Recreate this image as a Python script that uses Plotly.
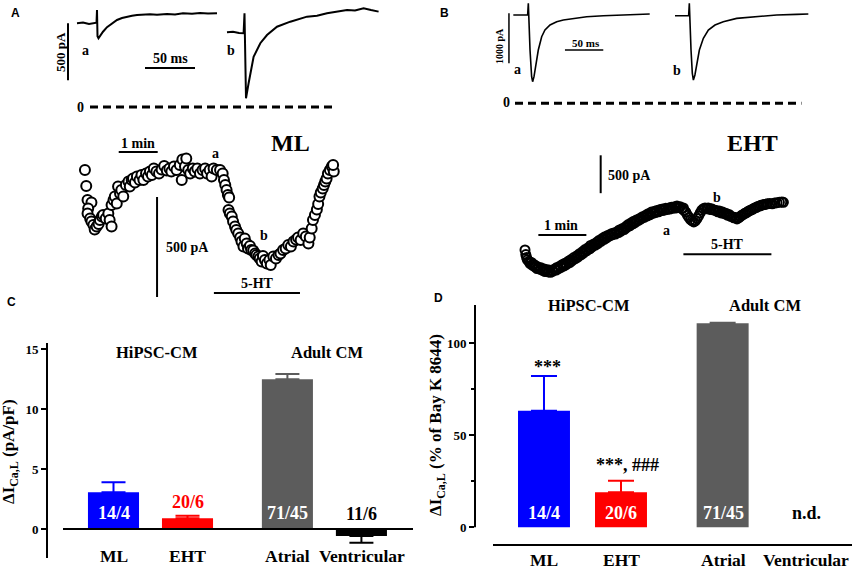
import plotly.graph_objects as go

W, H = 856, 571

# ---------------- data ----------------
# Panel A: example I_Ca,L traces (time in ms, current in pA relative to the dashed zero line)
A_SWEEP_A_T = [0, 6, 12, 18, 19.5, 20, 20.5, 21.5, 24, 26, 30, 33, 37, 40, 45, 50, 55, 60, 66, 73, 80, 90, 98, 106, 115, 123, 131, 140]
A_SWEEP_A_I = [734, 740, 728, 739, 739, 851, 620, 602, 640, 660, 700, 719, 745, 763, 780, 792, 800, 807, 812, 813, 808, 816, 812, 822, 818, 824, 820, 822]
A_SWEEP_B_T = [0, 6, 12, 16.6, 17.5, 18, 19, 21.6, 26.6, 33.3, 40, 50, 63.3, 80, 90, 100, 110, 120, 128, 136.6, 144, 151.6]
A_SWEEP_B_I = [655, 660, 648, 646, 822, 400, 76, 208, 441, 559, 631, 704, 748, 792, 800, 822, 838, 851, 846, 866, 850, 836]

# Panel A: time course of peak current, ML (time in s, current in pA)
ML_T = [0, 2, 4, 10, 5, 4, 8, 10, 13, 15,
        18, 21, 23, 26, 28, 32, 36, 38, 41, 41,
        44, 46, 49, 51, 54, 56, 59, 63, 67, 69,
        72, 74, 77, 80, 84, 87, 90, 94, 97, 100,
        103, 106, 110, 114, 118, 122, 126, 130, 133, 137,
        141, 146, 149, 150, 154, 156, 159, 162, 166, 169,
        173, 177, 181, 185, 188, 192, 195, 198, 203, 208,
        212, 214, 216, 218, 220, 222, 221, 223, 226, 228,
        231, 233, 236, 239, 241, 244, 246, 249, 251, 254,
        256, 259, 262, 264, 267, 269, 272, 274, 277, 280,
        284, 286, 290, 294, 298, 301, 305, 309, 313, 317,
        321, 325, 328, 332, 336, 340, 344, 346, 349, 351,
        354, 357, 359, 361, 363, 366, 368, 370, 372, 374,
        377, 380, 383, 382]
ML_I = [-200, -280, -350, -363, -392, -417, -442, -458, -475, -497,
        -483, -470, -450, -433, -425, -442, -417, -450, -483, -375,
        -350, -333, -367, -283, -317, -300, -333, -275, -258, -283,
        -250, -242, -263, -233, -250, -225, -250, -217, -233, -208,
        -225, -192, -208, -217, -197, -180, -203, -192, -208, -183,
        -200, -175, -250, -147, -183, -142, -200, -217, -192, -208,
        -192, -217, -200, -192, -217, -200, -233, -192, -200, -200,
        -217, -250, -275, -300, -325, -337, -400, -417, -433, -458,
        -483, -500, -517, -537, -558, -583, -542, -567, -592, -580,
        -600, -603, -617, -625, -633, -642, -658, -630, -650, -667,
        -650, -675, -633, -642, -625, -617, -600, -592, -575, -583,
        -558, -547, -537, -550, -517, -533, -567, -537, -492, -450,
        -425, -397, -370, -333, -313, -292, -275, -258, -242, -217,
        -200, -183, -208, -175]

# Panel B: example traces (ms, pA)
B_SWEEP_A_T = [0, 18.7, 19.6, 20, 21.8, 23.9, 25.2, 27, 29.6, 32.6, 37, 41.3, 47.9, 56.6, 65.3, 78.3, 95.7, 117.5, 143.6, 161, 178]
B_SWEEP_A_I = [1767, 1767, 2000, 1767, 1067, 533, 433, 533, 800, 1067, 1333, 1467, 1567, 1633, 1667, 1700, 1733, 1753, 1767, 1780, 1787]
B_SWEEP_B_T = [0, 17.8, 18.7, 19.1, 20.9, 22.6, 24, 26, 28.3, 31.8, 37, 43.5, 52.2, 63, 80.5, 106.6, 132.7, 158.8, 174]
B_SWEEP_B_I = [1753, 1753, 2000, 1753, 1067, 600, 467, 567, 800, 1067, 1300, 1467, 1567, 1633, 1700, 1733, 1767, 1780, 1787]

# Panel B: time course, EHT (s, pA)
EHT_T = [0, 1, 2, 3, 5, 6, 8, 9, 11, 12, 14, 15, 17, 19, 20, 22, 24, 25, 27, 29,
         30, 32, 34, 35, 37, 39, 40, 42, 44, 45, 47, 49, 50, 52, 54, 56, 57, 59, 61, 63,
         65, 66, 68, 70, 72, 73, 75, 77, 79, 81, 82, 84, 86, 88, 90, 91, 93, 95, 97, 99,
         100, 102, 104, 106, 108, 109, 111, 113, 115, 117, 118, 120, 122, 124, 126, 127, 129, 131, 133, 135,
         136, 138, 140, 142, 144, 145, 147, 149, 151, 153, 154, 156, 158, 160, 162, 163, 165, 167, 169, 171,
         172, 174, 176, 178, 180, 181, 183, 185, 187, 189, 190, 192, 194, 196, 198, 199, 201, 203, 205, 207,
         209, 211, 213, 215, 217, 219, 221, 223, 225, 227, 229, 231, 233, 235, 237, 239, 241, 243, 245, 247,
         249, 251, 253, 255, 257, 259, 261, 263, 265, 267, 269, 271, 273, 275, 277, 279, 281, 283, 285, 287,
         289, 291, 293, 295, 297, 299, 301, 303, 306, 309, 312, 315, 318, 321, 323]
EHT_I = [-1100, -1160, -1200, -1230, -1250, -1275, -1265, -1300, -1290, -1320, -1310, -1345, -1330, -1355, -1335, -1370, -1350, -1385, -1360, -1390,
         -1365, -1395, -1370, -1380, -1350, -1365, -1330, -1345, -1310, -1330, -1290, -1310, -1275, -1290, -1250, -1265, -1230, -1240, -1200, -1215,
         -1175, -1195, -1150, -1165, -1120, -1140, -1095, -1110, -1070, -1085, -1040, -1060, -1020, -1035, -995, -1015, -970, -985, -945, -960,
         -925, -940, -905, -915, -885, -900, -875, -890, -860, -870, -835, -850, -815, -830, -790, -805, -765, -780, -740, -755,
         -720, -735, -700, -710, -680, -690, -660, -670, -640, -650, -620, -635, -600, -615, -590, -605, -580, -595, -565, -580,
         -560, -575, -550, -565, -545, -560, -535, -550, -530, -545, -520, -540, -530, -555, -545, -580, -600, -640, -670, -700,
         -715, -730, -715, -685, -650, -610, -575, -555, -545, -555, -545, -565, -555, -570, -575, -580, -595, -585, -610, -600,
         -620, -615, -640, -630, -655, -660, -675, -670, -690, -675, -660, -640, -630, -615, -605, -590, -580, -570, -560, -545,
         -540, -525, -520, -510, -505, -500, -495, -490, -485, -490, -480, -475, -470, -465, -470]

# Panels C and D: bar charts
CATEGORIES = ["ML", "EHT", "Atrial", "Ventricular"]
C_MEAN = [3.06, 0.89, 12.47, -0.58]
C_SEM = [0.84, 0.22, 0.45, 0.56]
C_N = ["14/4", "20/6", "71/45", "11/6"]
D_MEAN = [63.4, 19.0, 110.9, None]
D_SEM = [18.8, 6.3, 0.3, None]
D_N = ["14/4", "20/6", "71/45", "n.d."]
C_TICKS = [0, 5, 10, 15]
D_TICKS = [0, 50, 100]
D_MINOR = [25, 75]

# ---------------- layout constants ----------------
SERIF = "Liberation Serif, Times New Roman, serif"
SANS = "Liberation Sans, Arial, sans-serif"
BAR_COLORS = ["#0000FF", "#FF0000", "#5C5C5C", "#000000"]
A_SWEEP_B_OFFSET = 150   # ms, horizontal placement of sweep b
B_SWEEP_B_OFFSET = 211
C_POS = [0, 1, 2.35, 3.35]
D_POS = [0, 1, 2.32, 3.40]


def xd(a, b):
    return [a / W, b / W]


def yd(top, bot):
    return [1 - bot / H, 1 - top / H]


def PX(x):
    return x / W


def PY(y):
    return 1 - y / H


fig = go.Figure()

# --- traces A
fig.add_trace(go.Scatter(x=A_SWEEP_A_T, y=A_SWEEP_A_I, mode="lines",
                         line=dict(color="black", width=2), xaxis="x", yaxis="y"))
fig.add_trace(go.Scatter(x=[t + A_SWEEP_B_OFFSET for t in A_SWEEP_B_T], y=A_SWEEP_B_I, mode="lines",
                         line=dict(color="black", width=2), xaxis="x", yaxis="y"))
fig.add_trace(go.Scatter(x=ML_T, y=ML_I, mode="markers",
                         marker=dict(symbol="circle", size=10, color="white",
                                     line=dict(color="black", width=2)),
                         xaxis="x2", yaxis="y2"))
# --- traces B
fig.add_trace(go.Scatter(x=B_SWEEP_A_T, y=B_SWEEP_A_I, mode="lines",
                         line=dict(color="black", width=1.6), xaxis="x3", yaxis="y3"))
fig.add_trace(go.Scatter(x=[t + B_SWEEP_B_OFFSET for t in B_SWEEP_B_T], y=B_SWEEP_B_I, mode="lines",
                         line=dict(color="black", width=1.6), xaxis="x3", yaxis="y3"))
fig.add_trace(go.Scatter(x=EHT_T, y=EHT_I, mode="markers",
                         marker=dict(symbol="circle-open", size=9, color="black",
                                     line=dict(color="black", width=2)),
                         xaxis="x4", yaxis="y4"))

# --- bars C
for i, cat in enumerate(CATEGORIES):
    m, s = C_MEAN[i], C_SEM[i]
    if m >= 0:
        err = dict(type="data", symmetric=False, array=[s], arrayminus=[0])
    else:
        err = dict(type="data", symmetric=False, array=[0], arrayminus=[s])
    err.update(color=BAR_COLORS[i], thickness=2, width=12)
    fig.add_trace(go.Bar(x=[C_POS[i]], y=[m], width=0.69, marker=dict(color=BAR_COLORS[i], line=dict(width=0)),
                         error_y=err, xaxis="x5", yaxis="y5"))
# --- bars D
for i, cat in enumerate(CATEGORIES):
    m, s = D_MEAN[i], D_SEM[i]
    if m is None:
        continue
    err = dict(type="data", symmetric=False, array=[s], arrayminus=[0],
               color=BAR_COLORS[i], thickness=2, width=13)
    fig.add_trace(go.Bar(x=[D_POS[i]], y=[m], width=0.675, marker=dict(color=BAR_COLORS[i], line=dict(width=0)),
                         error_y=err, xaxis="x6", yaxis="y6"))

hidden = dict(visible=False, fixedrange=True)
tickfont = dict(family=SERIF, size=13, color="black", weight="bold")
fig.update_layout(
    width=W, height=H, margin=dict(l=0, r=0, t=0, b=0),
    paper_bgcolor="white", plot_bgcolor="white", showlegend=False,
    xaxis=dict(domain=xd(55, 400), range=[-22, 323], anchor="y", **hidden),
    yaxis=dict(domain=yd(0, 115), range=[-70, 938], anchor="x", **hidden),
    xaxis2=dict(domain=xd(70, 350), range=[-23, 408], anchor="y2", **hidden),
    yaxis2=dict(domain=yd(125, 305), range=[-875, 25], anchor="x2", **hidden),
    xaxis3=dict(domain=xd(495, 815), range=[-23.9, 393.7], anchor="y3", **hidden),
    yaxis3=dict(domain=yd(0, 115), range=[-233, 2067], anchor="x3", **hidden),
    xaxis4=dict(domain=xd(510, 800), range=[-18.75, 343.75], anchor="y4", **hidden),
    yaxis4=dict(domain=yd(140, 285), range=[-1562, 352], anchor="x4", **hidden),
    xaxis5=dict(domain=xd(48, 415), range=[-0.885, 4.074], anchor="y5", **hidden),
    yaxis5=dict(domain=yd(343, 558), range=[-2.42, 15.5], anchor="x5",
                showline=True, linewidth=2, linecolor="black", ticks="outside",
                ticklen=5, tickwidth=2, tickcolor="black", tickvals=C_TICKS,
                tickfont=tickfont, showgrid=False, zeroline=False, fixedrange=True),
    xaxis6=dict(domain=xd(475, 852), range=[-0.896, 4.0], anchor="y6", **hidden),
    yaxis6=dict(domain=yd(305, 545), range=[-9.62, 120.8], anchor="x6",
                showline=False, ticks="outside", ticklen=5, tickwidth=2, tickcolor="black",
                tickvals=D_TICKS, tickfont=tickfont, showgrid=False, zeroline=False,
                minor=dict(tickvals=D_MINOR, ticks="outside", ticklen=3, tickwidth=2, tickcolor="black"),
                fixedrange=True),
)

# ---------------- shapes (scale bars, baselines) ----------------
def seg(xref, yref, x0, y0, x1, y1, width=2, dash=None):
    ln = dict(color="black", width=width)
    if dash:
        ln["dash"] = dash
    fig.add_shape(type="line", xref=xref, yref=yref, x0=x0, y0=y0, x1=x1, y1=y1, line=ln)

# A
seg("x", "y", -9, 234, -9, 734)
seg("x", "y", 68, 342, 118, 342)
seg("x", "y", 13, 0, 260, 0, width=3, dash="8px,5px")
seg("x2", "y2", 52, -110, 112, -110)
seg("x2", "y2", 111, -335, 111, -835)
seg("x2", "y2", 198.5, -815, 331, -815)
# B
seg("x3", "y3", -5.7, 800, -5.7, 1800, width=1.5)
seg("x3", "y3", 67.4, 1067, 117.4, 1067, width=1.5)
seg("x3", "y3", 2.2, 0, 376, 0, width=3, dash="8px,5px")
seg("x4", "y4", 16.7, -902, 76.7, -902)
seg("x4", "y4", 94.6, 150, 94.6, -350)
seg("x4", "y4", 198, -1157, 308, -1157)
# C zero line
seg("paper", "y5", PX(63), 0, PX(413), 0)
# D axis lines
seg("paper", "y6", PX(475), 0, PX(475), 120.8)
seg("paper", "paper", PX(493), PY(545), PX(852), PY(545))

# ---------------- text ----------------
def T(x, y, text, size=13, color="black", angle=0, xanchor="center", family=SERIF, bold=True):
    fig.add_annotation(x=PX(x), y=PY(y), xref="paper", yref="paper", text=(f"<b>{text}</b>" if bold else text),
                       showarrow=False, textangle=angle, xanchor=xanchor, yanchor="middle",
                       font=dict(family=family, size=size, color=color))

# panel letters
T(9, 13, "A", 12, family=SANS, xanchor="left")
T(438, 13, "B", 12, family=SANS, xanchor="left")
T(5, 302, "C", 12, family=SANS, xanchor="left")
T(432, 298, "D", 12, family=SANS, xanchor="left")

# A
T(60, 52, "500 pA", 13, angle=-90)
T(85, 51, "a", 14)
T(231, 51, "b", 14)
T(170, 58, "50 ms", 14)
T(80, 107, "0", 14)
T(138, 143, "1 min", 14)
T(290, 143, "ML", 24)
T(215, 153, "a", 14)
T(264, 235, "b", 14)
T(164, 247, "500 pA", 14, xanchor="left")
T(257, 283, "5-HT", 14)

# B
T(499, 46, "1000 pA", 10, angle=-90)
T(586, 43, "50 ms", 11)
T(517, 70, "a", 14)
T(677, 71, "b", 14)
T(506, 103, "0", 14)
T(752, 143, "EHT", 24)
T(606, 175, "500 pA", 14, xanchor="left")
T(561, 226, "1 min", 14)
T(666, 230, "a", 14)
T(717, 197, "b", 14)
T(727, 244, "5-HT", 14)

# C
T(10, 452, "ΔI<sub>Ca,L</sub> (pA/pF)", 17, angle=-90)
T(157, 352, "HiPSC-CM", 16.5)
T(327, 352, "Adult CM", 16.5)
C_LABEL_X = [113.5, 187.5, 287.5, 361.5]
C_N_STYLE = [(513, "white"), (502, "#FF0000"), (513, "white"), (514, "black")]
for i in range(4):
    T(C_LABEL_X[i], C_N_STYLE[i][0], C_N[i], 18, color=C_N_STYLE[i][1])
    T(C_LABEL_X[i], 556, CATEGORIES[i], 17.5)

# D
T(437, 425, "ΔI<sub>Ca,L</sub> (% of Bay K 8644)", 17, angle=-90)
T(589, 305, "HiPSC-CM", 16.5)
T(765, 305, "Adult CM", 16.5)
D_LABEL_X = [544, 621, 723, 806]
D_N_COLOR = ["white", "white", "white", "black"]
for i in range(4):
    T(D_LABEL_X[i], 513, D_N[i], 18, color=D_N_COLOR[i])
    T(D_LABEL_X[i], 560, CATEGORIES[i], 17.5)
T(547, 367, "***", 18)
T(627, 465, "***, ###", 18)

fig.write_html("out.html", config={"displayModeBar": False},
               post_script="document.body.style.margin='0';document.body.style.overflow='hidden';")
